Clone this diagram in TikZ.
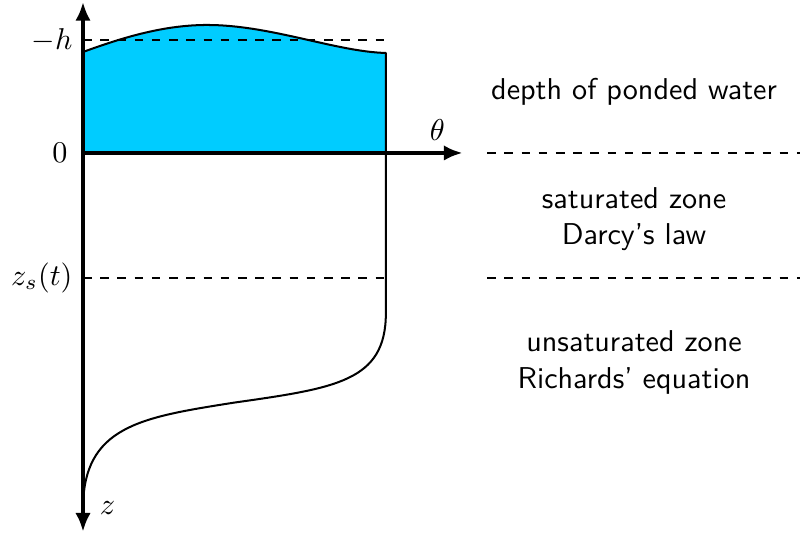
\documentclass[tikz,border=0pt]{standalone}
\definecolor{pondblue}{RGB}{0,204,255}
\usetikzlibrary{arrows.meta}
\begin{document}
\begin{tikzpicture}[
  axis/.style={line width=1.3pt},
  tip/.style={-{Latex[length=2.3mm,width=1.9mm]}},
  level/.style={dashed, semithick},
  profile/.style={line width=0.7pt, line join=round},
  zone/.style={font=\sffamily, align=center},
  every node/.append style={scale=1.05}
]
  \useasboundingbox (-1.017,-4.692) rectangle (8.783,1.874);

  % Points of the profile
  \coordinate (O)    at (0,0);
  \coordinate (top)  at (0,1.85);
  \coordinate (bot)  at (0,-4.64);
  \coordinate (end)  at (4.65,0);
  \coordinate (wl)   at (0,1.237);
  \coordinate (wr)   at (3.71,1.225);
  \coordinate (br)   at (3.71,0);
  \coordinate (hl)   at (0,1.384);
  \coordinate (hr)   at (3.71,1.384);
  \coordinate (sl)   at (0,-1.531);
  \coordinate (sr)   at (3.71,-1.531);
  \coordinate (knee) at (3.71,-1.96);
  \coordinate (mid)  at (1.84,-3.06);
  \coordinate (foot) at (0,-4.36);

  % Ponded water
  \fill[pondblue] (O) -- (wl) .. controls (0.5,1.42) and (1.0,1.568) .. (1.52,1.568)
    .. controls (2.3,1.568) and (3.1,1.24) .. (wr) -- (br) -- cycle;
  \draw[profile] (wl) .. controls (0.5,1.42) and (1.0,1.568) .. (1.52,1.568)
    .. controls (2.3,1.568) and (3.1,1.24) .. (wr) -- (knee)
    .. controls (3.71,-2.8) and (3.1,-2.88) .. (mid)
    .. controls (0.7,-3.24) and (0,-3.35) .. (foot);

  % Levels
  \draw[level] (hl) -- (hr);
  \draw[level] (sl) -- (sr);
  \draw[level] (4.95,0) coordinate (d1) -- (8.8,0) coordinate (d2);
  \draw[level] (4.95,-1.531) coordinate (d3) -- (8.8,-1.531) coordinate (d4);

  % Axes
  \draw[axis, tip] (O) -- (top);
  \draw[axis, tip] (O) -- (bot);
  \draw[axis, tip] (O) -- (end);

  % Axis labels
  \node[left]  (lh)    at (hl) {$-h$};
  \node[left]  (l0)    at (-0.06,0)  {$0$};
  \node[left]  (ls)    at (sl) {$z_s(t)$};
  \node        (ltheta) at (4.34,0.28) {$\theta$};
  \node        (lz)    at (0.3,-4.35) {$z$};

  % Zones
  \node[zone] (pond)  at (6.75,0.747)  {depth of ponded water};
  \node[zone] (sat)   at (6.75,-0.809) {saturated zone\\Darcy's law};
  \node[zone] (unsat) at (6.75,-2.566) {unsaturated zone\\Richards' equation};
\end{tikzpicture}
\end{document}
